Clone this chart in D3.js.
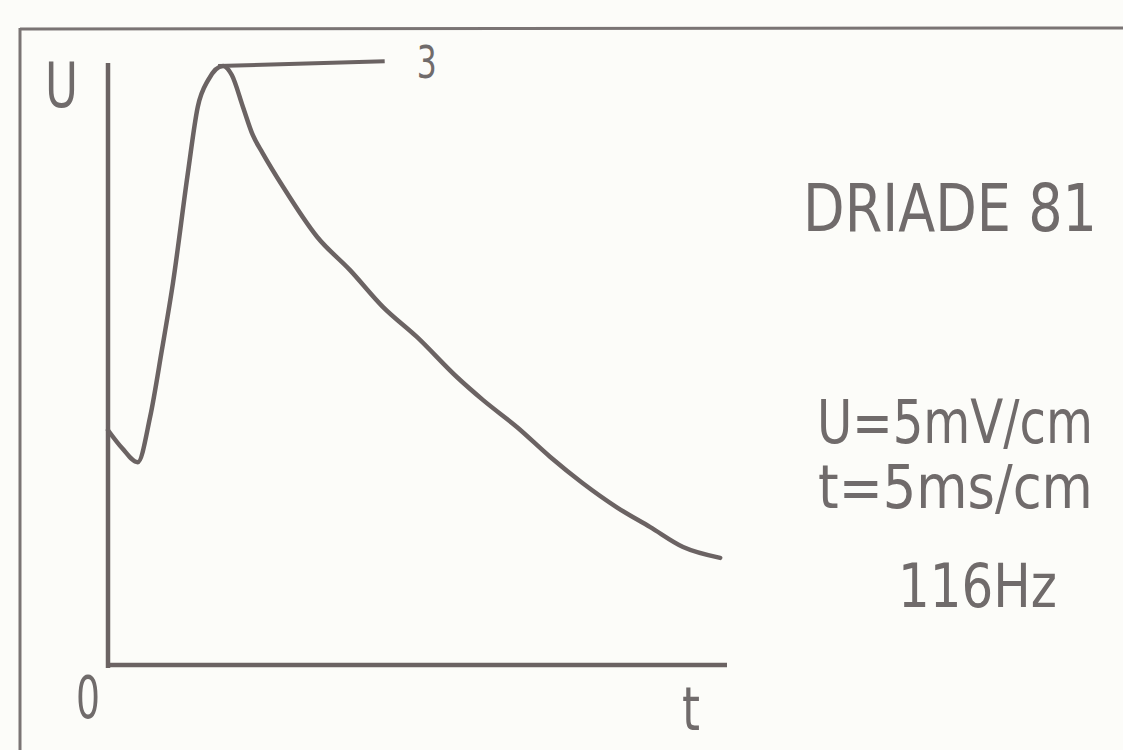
<!DOCTYPE html>
<html>
<head>
<meta charset="utf-8">
<script src="https://cdn.jsdelivr.net/npm/d3@7.9.0/dist/d3.min.js"></script>
<style>
  body { margin: 0; background: #fcfcf9; }
  svg { display: block; }
  text { font-family: "DejaVu Sans Condensed", "Liberation Sans Narrow", "DejaVu Sans", sans-serif; fill: #706b6b; }
</style>
</head>
<body>
<svg id="chart" width="1123" height="750"></svg>
<script>
// trace, t and U in cm of the screen grid
const traceT = [0, 0.23, 0.48, 0.68, 0.87, 1.05, 1.29, 1.45, 1.62, 1.86, 2.0, 2.18, 2.34, 2.5, 2.83, 3.38, 3.91, 4.44, 4.99, 5.64, 6.06, 6.61, 7.14, 7.67, 8.22, 8.76, 9.29, 9.89];
const traceU = [3.9, 3.6, 3.37, 4.12, 5.23, 6.35, 8.17, 9.27, 9.72, 9.95, 9.8, 9.27, 8.8, 8.5, 7.94, 7.11, 6.56, 5.95, 5.45, 4.78, 4.4, 3.95, 3.46, 3.02, 2.62, 2.29, 1.96, 1.78];

const peakLabel = "3";
const infoLines = ["U=5mV/cm", "t=5ms/cm", "116Hz"];
const titleText = "DRIADE 81";

const ink = "#6b6363";
const svg = d3.select("#chart");

const x = d3.scaleLinear().domain([0, 10]).range([108, 727]);
const y = d3.scaleLinear().domain([0, 10]).range([665, 63]);

// plotter lettering is narrow: squeeze a label to a given width
function narrowText(str, left, base, width, size) {
  const t = svg.append("text").attr("font-size", size).text(str);
  const w = t.node().getComputedTextLength();
  t.attr("transform", `translate(${left},${base}) scale(${width / w},1)`);
  return t;
}

// frame of the scanned card
svg.append("line").attr("x1", 20).attr("y1", 29).attr("x2", 1123).attr("y2", 28)
  .attr("stroke", "#7a7474").attr("stroke-width", 3);
svg.append("line").attr("x1", 20).attr("y1", 28).attr("x2", 20).attr("y2", 750)
  .attr("stroke", "#7a7474").attr("stroke-width", 3);

// axes
svg.append("line").attr("x1", x(0)).attr("y1", y(0) + 3).attr("x2", x(0)).attr("y2", y(10))
  .attr("stroke", ink).attr("stroke-width", 4.5);
svg.append("line").attr("x1", x(0)).attr("y1", y(0)).attr("x2", x(10)).attr("y2", y(0))
  .attr("stroke", ink).attr("stroke-width", 4.5);

const pts = traceT.map((t, i) => [t, traceU[i]]);
const line = d3.line().x(d => x(d[0])).y(d => y(d[1])).curve(d3.curveMonotoneX);
svg.append("path").attr("d", line(pts))
  .attr("fill", "none").attr("stroke", ink).attr("stroke-width", 4.5)
  .attr("stroke-linejoin", "round").attr("stroke-linecap", "round");

// peak leader and its number
const peak = pts[d3.maxIndex(traceU)];
svg.append("line").attr("x1", x(peak[0]) - 5).attr("y1", y(peak[1]))
  .attr("x2", x(4.47)).attr("y2", y(10.03))
  .attr("stroke", ink).attr("stroke-width", 4);
narrowText(peakLabel, x(5.15) - 10, y(9.75), 20, 44);

// axis letters
narrowText("U", 45, 107, 33, 62);
narrowText("0", 76, 718, 24, 58);
narrowText("t", 682, 730, 18, 60);

// right-hand notes
narrowText(titleText, 803, 231, 294, 66);

const infoX = [817, 818, 898];
const infoY = [443, 508, 607];
const infoW = [276, 275, 159];
infoLines.forEach((s, i) => narrowText(s, infoX[i], infoY[i], infoW[i], 60));
</script>
</body>
</html>
